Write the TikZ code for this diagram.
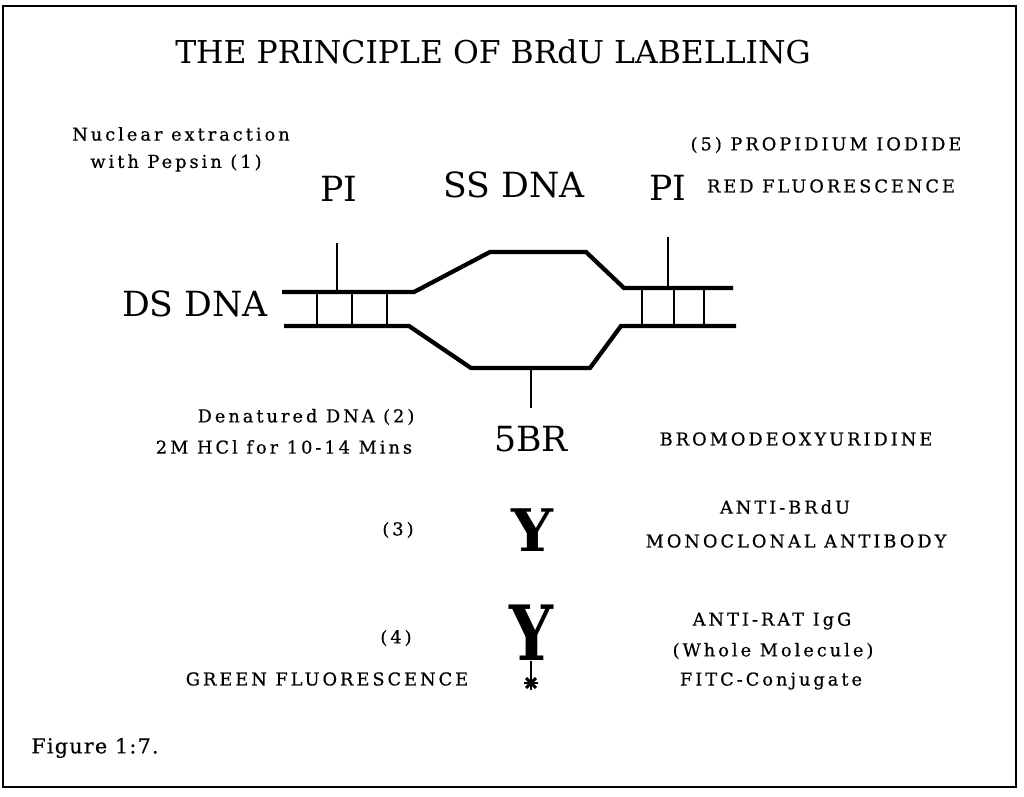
\documentclass[tikz,border=0pt]{standalone}
\usepackage{fontspec}
\setmainfont{DejaVu Serif}
\newfontfamily\lblfont[LetterSpace=17,FakeBold=0.6]{DejaVu Serif}
\newfontfamily\figfont[LetterSpace=6,FakeBold=0.6]{DejaVu Serif}
\begin{document}
\begin{tikzpicture}[x=0.75pt,y=-0.75pt,
  strand/.style={line width=3.2pt, line join=miter, line cap=butt},
  rung/.style={line width=0.9pt},
  tick/.style={line width=0.8pt},
  lbl/.style={inner sep=0pt, align=center, font=\lblfont\fontsize{13.3}{20}\selectfont},
  big/.style={inner sep=0pt, font=\fontsize{26}{30}\selectfont},
  title/.style={inner sep=0pt, font=\fontsize{23.6}{28}\selectfont},
  ysym/.style={inner sep=0pt, font=\bfseries\fontsize{44}{48}\selectfont},
  spoke/.style={line width=2.2pt}]
\useasboundingbox (0,0) rectangle (1024,796);
\draw[line width=0.8pt] (3,6) rectangle (1016,787);
% title
\node[title] (title) at (493,52) {THE PRINCIPLE OF BRdU LABELLING};
% upper labels
\node[lbl] (nuc1) at (181,134) {Nuclear extraction};
\node[lbl] (nuc2) at (176,163) {with Pepsin (1)};
\node[big] (pil) at (339,189) {PI};
\node[big] (ss) at (514,185) {SS DNA};
\node[big] (pir) at (668,188) {PI};
\node[lbl] (pro) at (826,145) {(5) PROPIDIUM IODIDE};
\node[lbl] (red) at (831,186) {RED FLUORESCENCE};
\node[big] (ds) at (195,304) {DS DNA};
% DNA
\draw[strand] (282,292) -- (414,292) -- (490,252) -- (586,252) -- (624,288) -- (733,288);
\draw[strand] (284,326) -- (409,326) -- (471,368) -- (590,368) -- (621,326) -- (736,326);
\foreach \x in {317,352,387} \draw[rung] (\x,292) -- (\x,326);
\foreach \x in {642,674,704} \draw[rung] (\x,288) -- (\x,326);
\coordinate (tl1) at (337,243); \coordinate (tl2) at (337,292);
\coordinate (tr1) at (668,237); \coordinate (tr2) at (668,288);
\coordinate (tb1) at (531,368); \coordinate (tb2) at (531,408);
\draw[tick] (tl1) -- (tl2);
\draw[tick] (tr1) -- (tr2);
\draw[tick] (tb1) -- (tb2);
% middle
\node[lbl] (den1) at (306,417) {Denatured DNA (2)};
\node[lbl] (den2) at (284,447) {2M HCl for 10-14 Mins};
\node[big] (br) at (531,439) {5BR};
\node[lbl] (bro) at (796,439) {BROMODEOXYURIDINE};
\node[lbl] (n3) at (398,530) {(3)};
\node[ysym] (y1) at (532,530) {Y};
\node[lbl] (ab1) at (785,507) {ANTI-BRdU};
\node[lbl] (ab2) at (796,541) {MONOCLONAL ANTIBODY};
\node[lbl] (n4) at (396,638) {(4)};
\node[ysym] (y2) at (531,633) {\scalebox{1.05}[1.3]{Y}};
\coordinate (ast) at (531,683);
\draw[tick] (y2.south) -- (ast);
\foreach \a in {0,45,90,135} \draw[spoke] (ast) ++(\a:7) -- ++(\a+180:14);
\node[lbl] (grn) at (327,679) {GREEN FLUORESCENCE};
\node[lbl] (rat1) at (772,621) {ANTI-RAT IgG};
\node[lbl] (rat2) at (773,651) {(Whole Molecule)};
\node[lbl] (fitc) at (771,681) {FITC-Conjugate};
\node[inner sep=0pt, font=\figfont\fontsize{15.5}{18}\selectfont] (fig) at (95,748) {Figure 1:7.};
\end{tikzpicture}
\end{document}
